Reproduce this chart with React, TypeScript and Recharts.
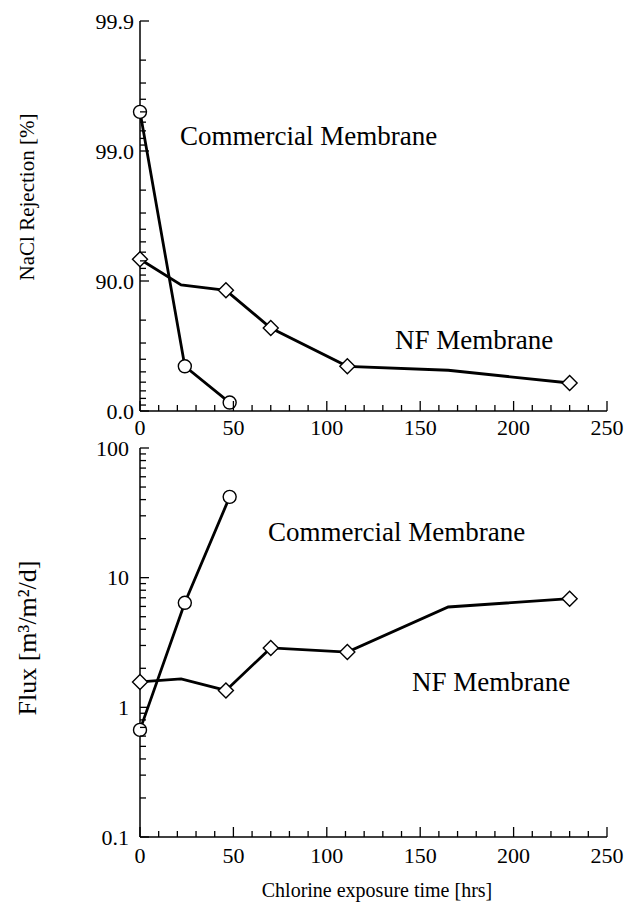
import React from 'react';
import { LineChart, Line, XAxis, YAxis } from 'recharts';

// ---- tick labels ----
const timeMajorTicks = [0, 50, 100, 150, 200, 250];
const passageDecades = [0.1, 1, 10, 100]; // salt passage = 100 - rejection
const rejectionTickLabels = ['99.9', '99.0', '90.0', '0.0'];
const fluxDecades = [0.1, 1, 10, 100];
const fluxTickLabels = ['0.1', '1', '10', '100'];

// ---- series values ----
const commercialTime = [0, 24, 48];
const commercialRejection = [99.5, 54.7, 13.9];
const commercialFlux = [0.67, 6.4, 42];

const nfTime = [0, 22, 46, 70, 111, 165, 230];
const nfRejection = [93.2, 89.3, 88.2, 77.0, 54.7, 51.4, 39.1];
const nfFlux = [1.57, 1.66, 1.35, 2.87, 2.67, 5.94, 6.89];
const nfMarked = [true, false, true, true, true, false, true];

// ---- derived tables ----
const commercialRejData = commercialTime.map((t, i) => ({ t, v: 100 - commercialRejection[i] }));
const nfRejData = nfTime.map((t, i) => ({ t, v: 100 - nfRejection[i] }));
const commercialFluxData = commercialTime.map((t, i) => ({ t, v: commercialFlux[i] }));
const nfFluxData = nfTime.map((t, i) => ({ t, v: nfFlux[i] }));

const timeTicks: number[] = [];
for (let t = 0; t <= 250; t += 10) timeTicks.push(t);

function logTicks(decades: number[]): number[] {
  const out: number[] = [];
  for (let i = 0; i < decades.length - 1; i++) {
    for (let k = 1; k <= 9; k++) out.push(Number((decades[i] * k).toPrecision(6)));
  }
  out.push(decades[decades.length - 1]);
  return out;
}
const passageTicks = logTicks(passageDecades);
const fluxTicks = logTicks(fluxDecades);

const FONT = "'Liberation Serif', 'Times New Roman', 'DejaVu Serif', serif";
const TICK_FONT = 22;
const txt = (size: number) => ({ fontFamily: FONT, fontSize: size, fill: '#000' });

function decadeIndex(v: number, decades: number[]): number {
  return decades.findIndex((d) => Math.abs(v - d) / d < 1e-6);
}

const XTick = (props: any) => {
  const { x, y, payload, side, labelOffset } = props;
  const v = payload.value;
  const major = timeMajorTicks.includes(v);
  const len = major ? 10 : 6;
  const dir = side === 'bottom' ? -1 : 1;
  return (
    <g>
      <line x1={x} x2={x} y1={y} y2={y + dir * len} stroke="#000" strokeWidth={1.3} />
      {side === 'bottom' && major && (
        <text x={x} y={y + labelOffset} dy="0.35em" textAnchor="middle" style={txt(TICK_FONT)}>
          {v}
        </text>
      )}
    </g>
  );
};

const YTick = (props: any) => {
  const { x, y, payload, side, decades, labels, gap } = props;
  const v = payload.value;
  const idx = decadeIndex(v, decades);
  const major = idx >= 0;
  const len = major ? 9 : 6;
  const dir = side === 'left' ? 1 : -1;
  return (
    <g>
      <line x1={x} x2={x + dir * len} y1={y} y2={y} stroke="#000" strokeWidth={1.3} />
      {side === 'left' && major && (
        <text x={x - gap} y={y} dy="0.35em" textAnchor="end" style={txt(TICK_FONT)}>
          {labels[idx]}
        </text>
      )}
    </g>
  );
};

const circleDot = (props: any) => (
  <circle key={`c${props.index}`} cx={props.cx} cy={props.cy} r={6.5} fill="#fff" stroke="#000" strokeWidth={1.4} />
);

const diamondDot = (props: any) => {
  const { cx, cy, index } = props;
  if (!nfMarked[index]) return <g key={`d${index}`} />;
  const s = 7.5;
  return (
    <path
      key={`d${index}`}
      d={`M${cx},${cy - s}L${cx + s},${cy}L${cx},${cy + s}L${cx - s},${cy}Z`}
      fill="#fff"
      stroke="#000"
      strokeWidth={1.4}
    />
  );
};

const axisLine = { stroke: '#000', strokeWidth: 1.5 };

function Panel(props: {
  height: number;
  top: number;
  xHeight: number;
  xLabelOffset: number;
  decades: number[];
  labels: string[];
  ticks: number[];
  reversed: boolean;
  gap: number;
  commercial: { t: number; v: number }[];
  nf: { t: number; v: number }[];
}) {
  const { height, top, xHeight, xLabelOffset, decades, labels, ticks, reversed, gap, commercial, nf } = props;
  return (
    <LineChart width={625} height={height} margin={{ top, right: 18, left: 0, bottom: 0 }} style={{ overflow: 'visible' }}>
      <XAxis
        xAxisId="b"
        type="number"
        dataKey="t"
        domain={[0, 250]}
        ticks={timeTicks}
        interval={0}
        height={xHeight}
        tickSize={0}
        tickMargin={0}
        axisLine={axisLine}
        tickLine={false}
        tick={(p: any) => <XTick {...p} side="bottom" labelOffset={xLabelOffset} />}
      />
      <XAxis
        xAxisId="t"
        orientation="top"
        type="number"
        dataKey="t"
        domain={[0, 250]}
        ticks={timeTicks}
        interval={0}
        height={0}
        tickSize={0}
        tickMargin={0}
        axisLine={axisLine}
        tickLine={false}
        tick={(p: any) => <XTick {...p} side="top" labelOffset={0} />}
      />
      <YAxis
        yAxisId="l"
        type="number"
        scale="log"
        domain={[decades[0], decades[decades.length - 1]]}
        reversed={reversed}
        ticks={ticks}
        interval={0}
        width={140}
        tickSize={0}
        tickMargin={0}
        axisLine={axisLine}
        tickLine={false}
        allowDataOverflow
        tick={(p: any) => <YTick {...p} side="left" decades={decades} labels={labels} gap={gap} />}
      />
      <YAxis
        yAxisId="r"
        orientation="right"
        type="number"
        scale="log"
        domain={[decades[0], decades[decades.length - 1]]}
        reversed={reversed}
        ticks={ticks}
        interval={0}
        width={0}
        tickSize={0}
        tickMargin={0}
        axisLine={axisLine}
        tickLine={false}
        allowDataOverflow
        tick={(p: any) => <YTick {...p} side="right" decades={decades} labels={labels} gap={0} />}
      />
      <Line
        xAxisId="b"
        yAxisId="l"
        data={nf}
        dataKey="v"
        type="linear"
        stroke="#000"
        strokeWidth={2.8}
        dot={diamondDot}
        activeDot={false}
        isAnimationActive={false}
      />
      <Line
        xAxisId="b"
        yAxisId="l"
        data={commercial}
        dataKey="v"
        type="linear"
        stroke="#000"
        strokeWidth={2.8}
        dot={circleDot}
        activeDot={false}
        isAnimationActive={false}
      />
    </LineChart>
  );
}

export default function App() {
  return (
    <div style={{ position: 'absolute', left: 0, top: 0, width: 625, height: 904, background: '#fff' }}>
      <div style={{ position: 'absolute', left: 0, top: 0 }}>
        <Panel
          height={440}
          top={21}
          xHeight={29}
          xLabelOffset={16}
          decades={passageDecades}
          labels={rejectionTickLabels}
          ticks={passageTicks}
          reversed={true}
          gap={6}
          commercial={commercialRejData}
          nf={nfRejData}
        />
      </div>
      <div style={{ position: 'absolute', left: 0, top: 420 }}>
        <Panel
          height={484}
          top={28}
          xHeight={67}
          xLabelOffset={18}
          decades={fluxDecades}
          labels={fluxTickLabels}
          ticks={fluxTicks}
          reversed={false}
          gap={11}
          commercial={commercialFluxData}
          nf={nfFluxData}
        />
      </div>
      <svg
        width={625}
        height={904}
        style={{ position: 'absolute', left: 0, top: 0, pointerEvents: 'none' }}
      >
        <text style={txt(21)} textAnchor="middle" dominantBaseline="central" transform="rotate(-90 27 197)" x={27} y={197}>
          NaCl Rejection [%]
        </text>
        <text style={txt(26)} textAnchor="middle" dominantBaseline="central" transform="rotate(-90 27 638)" x={27} y={638}>
          Flux [m³/m²/d]
        </text>
        <text style={txt(20)} textAnchor="middle" x={377} y={897}>
          Chlorine exposure time [hrs]
        </text>
        <text style={txt(27)} x={180} y={145}>
          Commercial Membrane
        </text>
        <text style={txt(27)} x={395} y={349}>
          NF Membrane
        </text>
        <text style={txt(27)} x={268} y={541}>
          Commercial Membrane
        </text>
        <text style={txt(27)} x={412} y={691}>
          NF Membrane
        </text>
      </svg>
    </div>
  );
}
